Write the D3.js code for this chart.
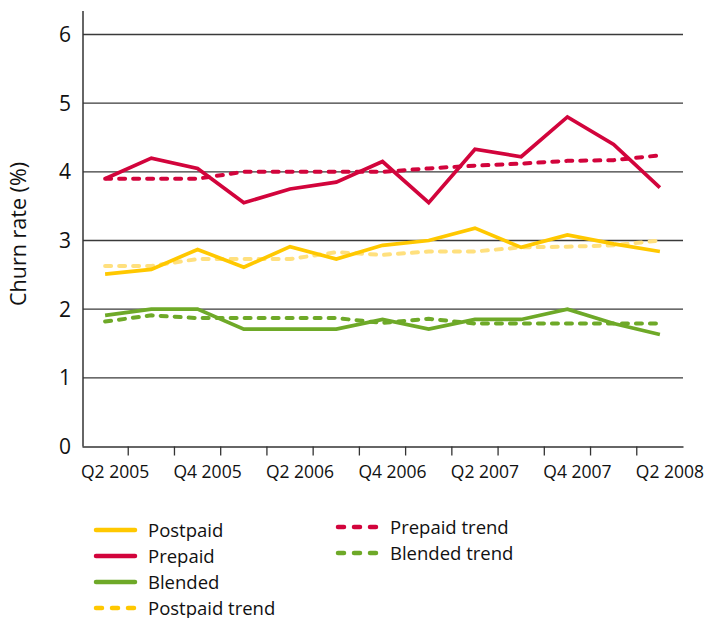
<!DOCTYPE html>
<html>
<head>
<meta charset="utf-8">
<script src="https://cdn.jsdelivr.net/npm/d3@7"></script>
<style>
  body { margin: 0; background: #fff; }
  svg text { font-family: "Open Sans", "DejaVu Sans", sans-serif; fill: #111; }
</style>
</head>
<body>
<svg id="chart" width="705" height="618"></svg>
<script>
// quarters on the x axis
var quarters = ["Q2 2005", "Q3 2005", "Q4 2005", "Q1 2006", "Q2 2006", "Q3 2006", "Q4 2006",
                "Q1 2007", "Q2 2007", "Q3 2007", "Q4 2007", "Q1 2008", "Q2 2008"];
var xLabels = ["Q2 2005", "Q4 2005", "Q2 2006", "Q4 2006", "Q2 2007", "Q4 2007", "Q2 2008"];
var yTicks = [0, 1, 2, 3, 4, 5, 6];

// churn rate (%)
var postpaid      = [2.51, 2.58, 2.87, 2.61, 2.91, 2.73, 2.93, 3.0, 3.18, 2.9, 3.08, 2.95, 2.84];
var prepaid       = [3.9, 4.2, 4.05, 3.55, 3.75, 3.85, 4.15, 3.55, 4.33, 4.22, 4.8, 4.4, 3.77];
var blended       = [1.91, 2.0, 2.0, 1.71, 1.71, 1.71, 1.85, 1.71, 1.85, 1.85, 2.0, 1.79, 1.63];
var postpaidTrend = [2.63, 2.63, 2.73, 2.73, 2.73, 2.83, 2.79, 2.84, 2.84, 2.9, 2.91, 2.93, 3.0];
var prepaidTrend  = [3.9, 3.9, 3.9, 4.0, 4.0, 4.0, 4.0, 4.05, 4.09, 4.12, 4.16, 4.17, 4.24];
var blendedTrend  = [1.82, 1.91, 1.87, 1.87, 1.87, 1.87, 1.8, 1.86, 1.79, 1.79, 1.79, 1.79, 1.79];

var red = "#d2043c", yellow = "#ffc800", green = "#6ea928", paleYellow = "#ffe07e";

var series = [
    { name: "Postpaid", values: postpaid, color: yellow, dash: null },
    { name: "Prepaid", values: prepaid, color: red, dash: null },
    { name: "Blended", values: blended, color: green, dash: null },
    { name: "Postpaid trend", values: postpaidTrend, color: paleYellow, legendColor: yellow, dash: true },
    { name: "Prepaid trend", values: prepaidTrend, color: red, dash: true },
    { name: "Blended trend", values: blendedTrend, color: green, dash: true }
];

var svg = d3.select("#chart");

var x = d3.scaleBand().domain(quarters).range([82, 683]);
var y = d3.scaleLinear().domain([0, 6]).range([446.5, 34.5]);

// gridlines
svg.append("g")
    .selectAll("line")
    .data(yTicks.slice(1))
    .enter()
    .append("line")
    .attr("x1", 83).attr("x2", 683)
    .attr("y1", function(d) { return y(d); })
    .attr("y2", function(d) { return y(d); })
    .style("stroke", "#3a3a3a")
    .style("stroke-width", "1.3px");

// y axis line + labels
svg.append("line")
    .attr("x1", 83).attr("x2", 83)
    .attr("y1", 11).attr("y2", y(0))
    .style("stroke", "#333").style("stroke-width", "1.5px");

svg.append("g")
    .selectAll("text")
    .data(yTicks)
    .enter()
    .append("text")
    .attr("x", 71)
    .attr("y", function(d) { return y(d) + 7.5; })
    .attr("text-anchor", "end")
    .style("font-size", "21px")
    .text(function(d) { return d; });

svg.append("text")
    .attr("transform", "translate(26,234) rotate(-90)")
    .attr("text-anchor", "middle")
    .style("font-size", "21.5px")
    .text("Churn rate (%)");

// x axis: ticks on band boundaries, labels start at band edge
var xAxis = d3.axisBottom(x).tickSize(0).tickFormat("");
var gx = svg.append("g")
    .attr("transform", "translate(0," + y(0) + ")")
    .call(xAxis);
gx.select(".domain").style("stroke", "#333").style("stroke-width", "1.5px");

svg.append("g")
    .selectAll("line")
    .data(quarters.slice(1))
    .enter()
    .append("line")
    .attr("x1", function(d) { return x(d); })
    .attr("x2", function(d) { return x(d); })
    .attr("y1", y(0)).attr("y2", y(0) + 9)
    .style("stroke", "#333").style("stroke-width", "1.3px");

svg.append("g")
    .selectAll("text")
    .data(xLabels)
    .enter()
    .append("text")
    .attr("x", function(d) { return x(d) - 1; })
    .attr("y", 478)
    .style("font-size", "17.5px")
    .text(function(d) { return d; });

// lines
var line = d3.line()
    .x(function(d, i) { return x(quarters[i]) + x.bandwidth() / 2; })
    .y(function(d) { return y(d); });

var drawOrder = [3, 0, 4, 1, 5, 2];
drawOrder.forEach(function(k) {
    var s = series[k];
    svg.append("path")
        .datum(s.values)
        .attr("d", line)
        .style("fill", "none")
        .style("stroke", s.color)
        .style("stroke-width", s.dash ? "4px" : "3.7px")
        .style("stroke-linecap", s.dash ? "round" : "butt")
        .style("stroke-linejoin", "miter")
        .style("stroke-dasharray", s.dash ? "6,8" : null);
});

// legend
var legendPos = [
    [94, 530], [94, 556], [94, 582], [94, 608],
    [336, 527], [336, 553]
];
series.forEach(function(s, i) {
    var p = legendPos[i];
    svg.append("line")
        .attr("x1", p[0] + 2).attr("x2", p[0] + 41)
        .attr("y1", p[1]).attr("y2", p[1])
        .style("stroke", s.legendColor || s.color)
        .style("stroke-width", "4.5px")
        .style("stroke-linecap", "round")
        .style("stroke-dasharray", s.dash ? "6,10" : null);
    svg.append("text")
        .attr("x", p[0] + 54)
        .attr("y", p[1] + 6.5)
        .style("font-size", "18.5px")
        .text(s.name);
});
</script>
</body>
</html>
